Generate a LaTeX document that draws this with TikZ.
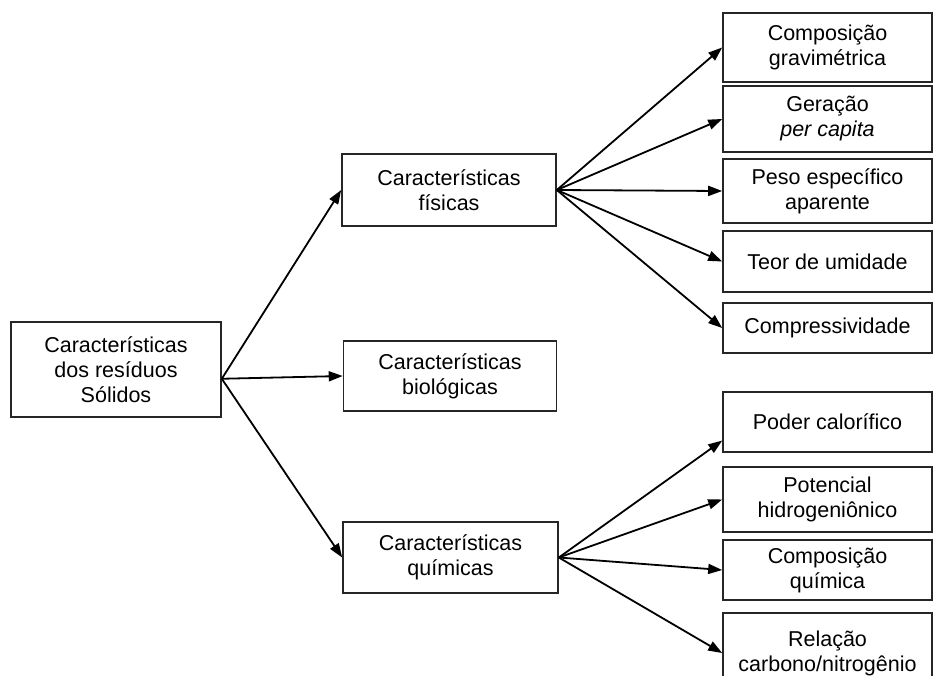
\documentclass[tikz,border=0pt]{standalone}
\usepackage{fontspec}
\setmainfont{Liberation Sans}
\usetikzlibrary{arrows.meta}
\tikzset{caixa/.style={draw=black!85, line width=1.6pt, align=center, inner sep=0pt,
  font=\fontsize{21.5}{25}\selectfont},
  seta/.style={line width=1.8pt, -{Triangle[length=14pt,width=10pt]}}}
\begin{document}
\begin{tikzpicture}[x=1pt,y=-1pt]
\useasboundingbox (0,0) rectangle (934,675);
\node[caixa, minimum width=210pt, minimum height=95pt] (raiz) at (116,369.5) {Características\\dos resíduos\\Sólidos};
\node[caixa, minimum width=214pt, minimum height=72pt] (fis) at (449,190) {Características\\físicas};
\node[caixa, minimum width=213pt, minimum height=70pt] (bio) at (450,376) {Características\\biológicas};
\node[caixa, minimum width=215pt, minimum height=71pt] (qui) at (450.5,557.5) {Características\\químicas};
\node[caixa, minimum width=209pt, minimum height=69pt] (grav) at (827.5,47.5) {Composição\\gravimétrica};
\node[caixa, minimum width=209pt, minimum height=66pt] (ger) at (827.5,119) {Geração\\\textit{per capita}};
\node[caixa, minimum width=209pt, minimum height=64pt] (peso) at (827.5,191) {Peso específico\\aparente};
\node[caixa, minimum width=209pt, minimum height=61pt] (umid) at (827.5,261.5) {Teor de umidade};
\node[caixa, minimum width=209pt, minimum height=50pt] (comp) at (827.5,328) {Compressividade};
\node[caixa, minimum width=209pt, minimum height=60pt] (pod) at (827.5,422) {Poder calorífico};
\node[caixa, minimum width=209pt, minimum height=65pt] (pot) at (827.5,499.5) {Potencial\\hidrogeniônico};
\node[caixa, minimum width=209pt, minimum height=60pt] (cq) at (827.5,570) {Composição\\química};
\node[caixa, minimum width=209pt, minimum height=80pt] (rel) at (827.5,653) {Relação\\carbono/nitrogênio};
\draw[seta] (raiz.-5)--(fis.west);
\draw[seta] (raiz.-5)--(bio.west);
\draw[seta] (raiz.-5)--(qui.west);
\foreach \d in {grav,ger,peso,umid,comp}
  \draw[seta] (fis.east)--(\d.west);
\draw[seta] (qui.east)--(pod.190);
\foreach \d in {pot,cq,rel}
  \draw[seta] (qui.east)--(\d.west);
\end{tikzpicture}
\end{document}
